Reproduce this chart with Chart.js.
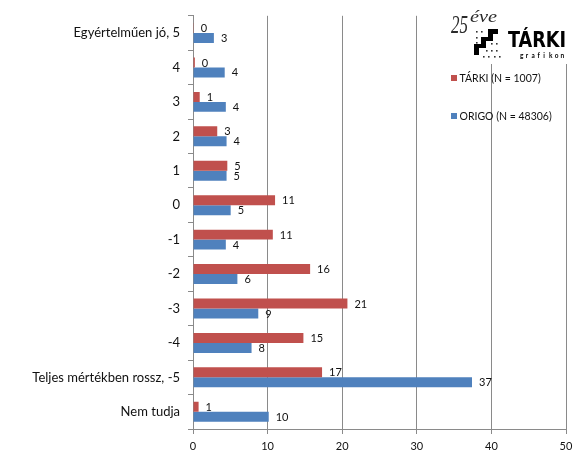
<!DOCTYPE html>
<html>
<head>
<meta charset="utf-8">
<script src="https://cdn.jsdelivr.net/npm/chart.js@4/dist/chart.umd.min.js"></script>
<style>
html,body{margin:0;padding:0;background:#fff;}
#wrap{position:relative;width:580px;height:462px;}
</style>
</head>
<body>
<div id="wrap"><canvas id="c"></canvas></div>
<script>
const categories = ["Egyértelműen jó, 5","4","3","2","1","0","-1","-2","-3","-4","Teljes mértékben rossz, -5","Nem tudja"];
const tarkiValues = [0.1,0.25,0.9,3.25,4.6,11.0,10.7,15.7,20.7,14.8,17.3,0.75];
const origoValues = [2.8,4.25,4.4,4.5,4.5,5.05,4.4,5.95,8.75,7.85,37.4,10.15];
const tarkiLabels = [0,0,1,3,5,11,11,16,21,15,17,1];
const origoLabels = [3,4,4,4,5,5,4,6,9,8,37,10];
const xTicks = [0,10,20,30,40,50];
const seriesNames = ["TÁRKI (N = 1007)","ORIGO (N = 48306)"];
const colors = ["#C0504D","#4F81BD"];
const FONT = "Lato, 'Open Sans', sans-serif";
const TEXT = "#111";
const GRID = "#8a8a8a";

const dataLabelPlugin = {
  id: 'dataLabels',
  afterDatasetsDraw(chart) {
    const ctx = chart.ctx;
    const lbls = [tarkiLabels, origoLabels];
    ctx.save();
    ctx.font = "11px " + FONT;
    ctx.fillStyle = TEXT;
    ctx.textAlign = 'left';
    ctx.textBaseline = 'middle';
    chart.data.datasets.forEach((ds, di) => {
      const meta = chart.getDatasetMeta(di);
      meta.data.forEach((bar, i) => {
        ctx.fillText(String(lbls[di][i]), bar.x + 7, bar.y + 0.5);
      });
    });
    ctx.restore();
  }
};

function fitText(ctx, txt, x, y, w) {
  const m = ctx.measureText(txt).width;
  ctx.save();
  ctx.translate(x, y);
  ctx.scale(w / m, 1);
  ctx.fillText(txt, 0, 0);
  ctx.restore();
}

const overlayPlugin = {
  id: 'overlay',
  afterDraw(chart) {
    const ctx = chart.ctx;
    ctx.save();
    // logo background
    ctx.fillStyle = '#fff';
    ctx.fillRect(445, 0, 135, 64);
    // "25 éve"
    ctx.fillStyle = '#2a2a2a';
    ctx.textBaseline = 'alphabetic';
    ctx.textAlign = 'left';
    ctx.font = "italic 26px 'Liberation Serif', serif";
    fitText(ctx, "25", 451, 33, 17);
    ctx.font = "italic 16px 'Liberation Serif', serif";
    fitText(ctx, "éve", 470, 22, 27);
    // stairs icon
    ctx.fillStyle = '#000';
    ctx.beginPath();
    const pts = [[474,55],[474,44],[481,44],[481,37],[488,37],[488,29],[498,29],[498,34],[493,34],[493,41],[486,41],[486,48],[479,48],[479,55]];
    pts.forEach((p, i) => i ? ctx.lineTo(p[0], p[1]) : ctx.moveTo(p[0], p[1]));
    ctx.closePath();
    ctx.fill();
    ctx.fillStyle = '#333';
    const dots = [[476,31],[481,31],[476,37],[476,42],[491,43],[496,43],[486,50],[491,50],[496,50],[483,56],[488,56],[494,56],[499,56]];
    dots.forEach(d => ctx.fillRect(d[0], d[1], 1.6, 1.6));
    // TÁRKI
    ctx.fillStyle = '#000';
    ctx.font = "bold 21px 'DejaVu Sans Condensed', 'Liberation Sans Narrow', sans-serif";
    fitText(ctx, "TÁRKI", 508, 47, 58);
    ctx.font = "bold 6.5px " + FONT;
    const g = "grafikon";
    for (let i = 0; i < g.length; i++) ctx.fillText(g[i], 520 + i * 5.8, 57.5);
    // legend
    ctx.font = "10.5px " + FONT;
    ctx.textBaseline = 'middle';
    const ly = [78, 116];
    for (let i = 0; i < 2; i++) {
      ctx.fillStyle = colors[i];
      ctx.fillRect(451, ly[i] - 3, 6, 6);
      ctx.fillStyle = TEXT;
      ctx.fillText(seriesNames[i], 459.5, ly[i] + 0.5);
    }
    ctx.restore();
  }
};

new Chart(document.getElementById('c'), {
  type: 'bar',
  data: {
    labels: categories,
    datasets: [
      { label: seriesNames[0], data: tarkiValues, backgroundColor: colors[0], borderWidth: 0, categoryPercentage: 0.58, barPercentage: 1.0 },
      { label: seriesNames[1], data: origoValues, backgroundColor: colors[1], borderWidth: 0, categoryPercentage: 0.58, barPercentage: 1.0 }
    ]
  },
  options: {
    indexAxis: 'y',
    responsive: true,
    maintainAspectRatio: false,
    animation: false,
    devicePixelRatio: 1,
    layout: { padding: { top: 12, right: 14, left: 0, bottom: 0 } },
    plugins: { legend: { display: false }, tooltip: { enabled: false } },
    scales: {
      x: {
        min: 0, max: 50,
        afterBuildTicks(scale) { scale.ticks = xTicks.map(v => ({ value: v })); },
        afterFit(scale) { scale.height = 33; },
        grid: { color: GRID, lineWidth: 1, tickLength: 5, drawOnChartArea: true },
        border: { color: GRID, width: 1 },
        ticks: { color: TEXT, font: { family: FONT, size: 11 }, padding: 6, maxRotation: 0 }
      },
      y: {
        afterFit(scale) { scale.width = 193; },
        grid: { drawOnChartArea: false, offset: true, tickLength: 5, color: GRID },
        border: { color: GRID, width: 1 },
        ticks: { color: TEXT, font: { family: FONT, size: 13 }, padding: 8 }
      }
    }
  },
  plugins: [dataLabelPlugin, overlayPlugin]
});
</script>
</body>
</html>
